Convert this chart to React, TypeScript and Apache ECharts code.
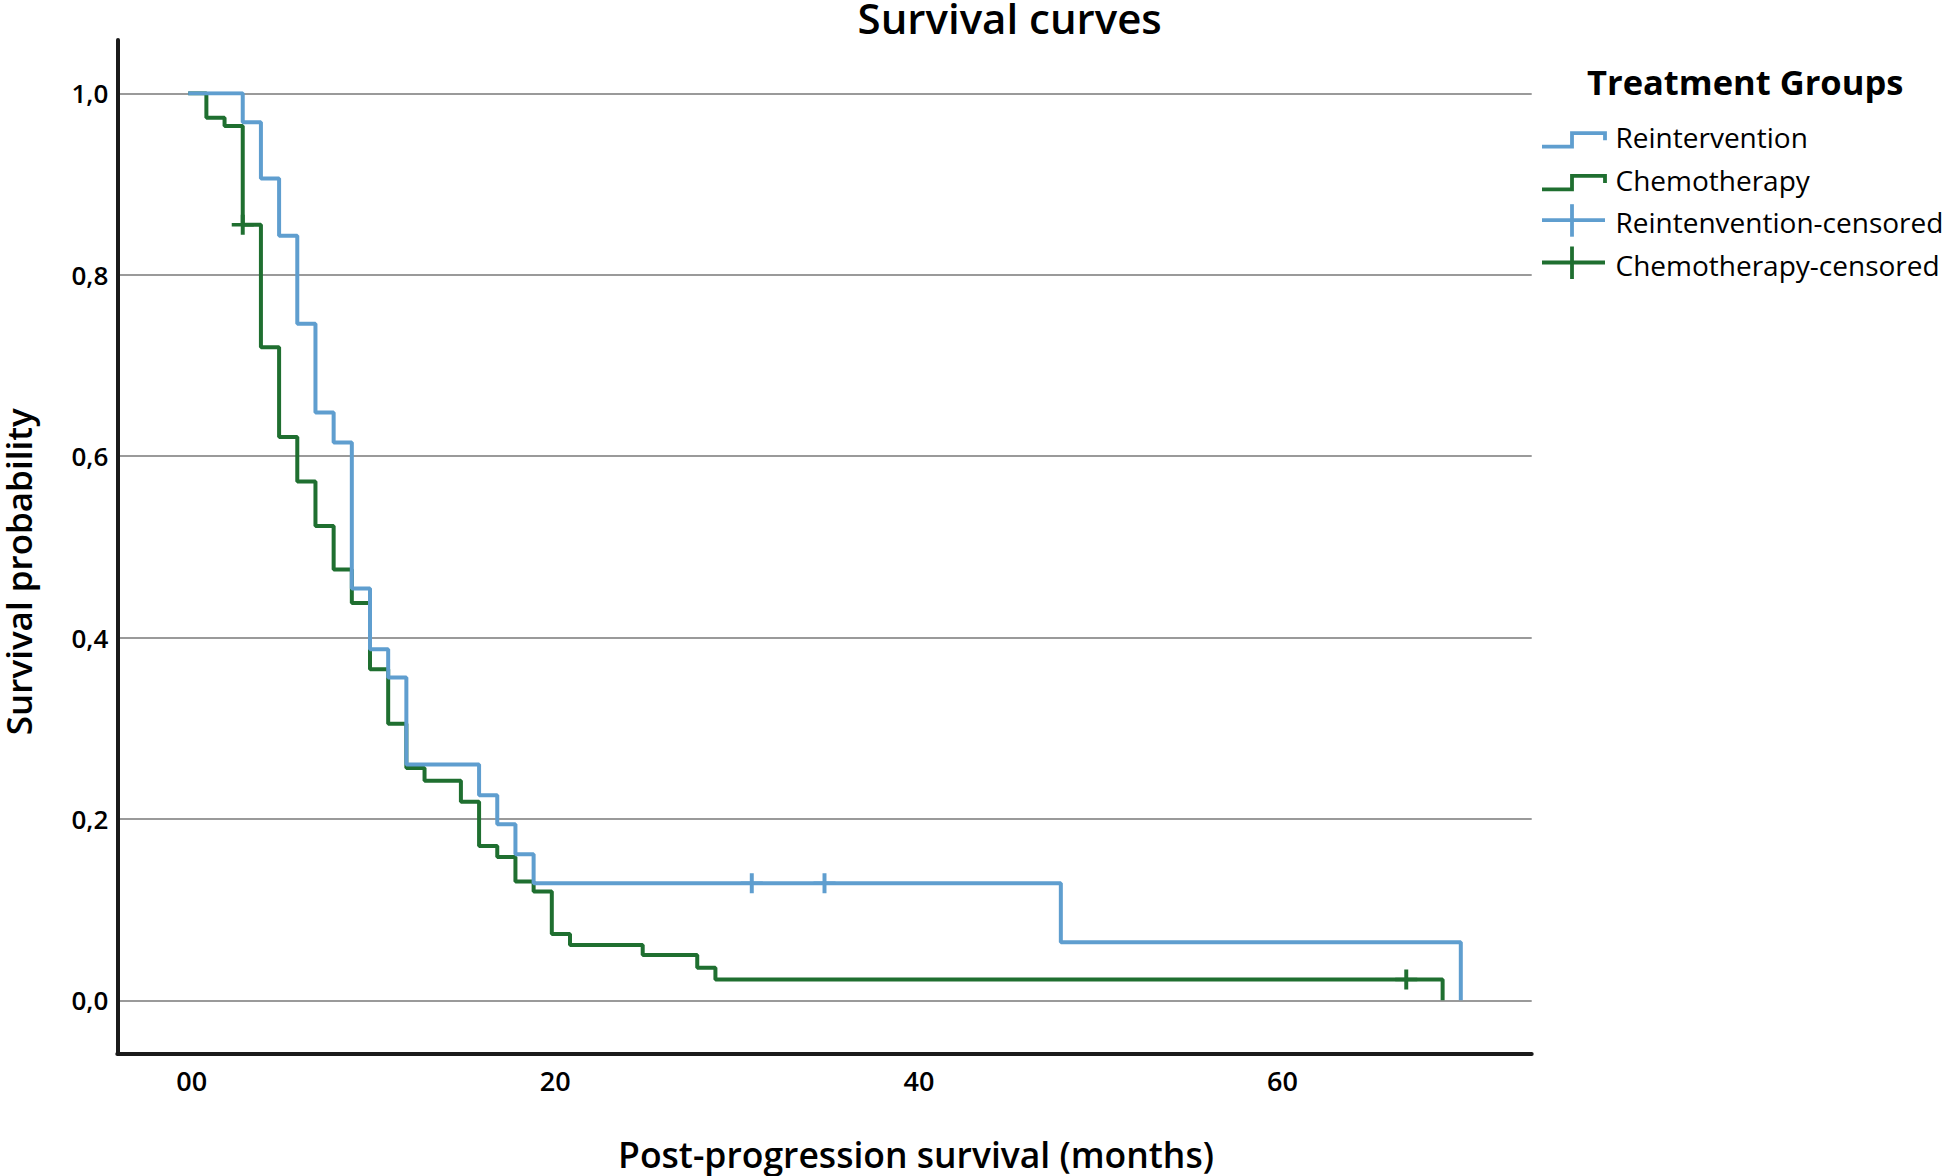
import React, { useEffect, useRef } from 'react';
import * as echarts from 'echarts';

// ---- Data ----
const reinterventionTimes = [0, 3, 4, 5, 6, 7, 8, 9, 10, 11, 12, 16, 17, 18, 19, 48, 70];
const reinterventionSurvival = [1, 0.968, 0.906, 0.843, 0.746, 0.648, 0.615, 0.454, 0.387, 0.356, 0.26, 0.226, 0.194, 0.161, 0.129, 0.064, 0];
const reinterventionCensoredTimes = [31, 35];
const reinterventionCensoredSurvival = [0.129, 0.129];

const chemoTimes = [0, 1, 2, 3, 4, 5, 6, 7, 8, 9, 10, 11, 12, 13, 15, 16, 17, 18, 19, 20, 21, 25, 28, 29, 69];
const chemoSurvival = [1, 0.973, 0.964, 0.855, 0.72, 0.621, 0.572, 0.523, 0.475, 0.438, 0.365, 0.305, 0.256, 0.242, 0.219, 0.17, 0.158, 0.131, 0.12, 0.073, 0.061, 0.05, 0.036, 0.023, 0];
const chemoCensoredTimes = [3, 67];
const chemoCensoredSurvival = [0.855, 0.023];

const xTickValues = [0, 20, 40, 60];
const xTickLabels = ['00', '20', '40', '60'];
const yTickValues = [0, 0.2, 0.4, 0.6, 0.8, 1.0];
const yTickLabels = ['0,0', '0,2', '0,4', '0,6', '0,8', '1,0'];

const legendNames = ['Reintervention', 'Chemotherapy', 'Reintenvention-censored', 'Chemotherapy-censored'];

const BLUE = '#5F9ECF';
const GREEN = '#1F6F30';
const FONT = '"Open Sans", "Noto Sans", sans-serif';
const PLUS = 'path://M8.2,0H11.8V20H8.2Z M0,8.2H20V11.8H0Z';

const zip = (a: number[], b: number[]) => a.map((v, i) => [v, b[i]]);
const lookup = (vals: number[], labels: string[]) => (v: number) => {
  const i = vals.findIndex((t) => Math.abs(t - v) < 1e-9);
  return i >= 0 ? labels[i] : '';
};

const X_MIN = -3.9;
const X_MAX = 73.9;

export default function App() {
  const ref = useRef<HTMLDivElement>(null);
  useEffect(() => {
    if (!ref.current) return;
    const chart = echarts.init(ref.current, undefined, { renderer: 'svg' });

    const legendX0 = 1542;
    const legendIconMid = 1572;
    const legendIconEnd = 1605;
    const legendTextX = 1615.5;
    const legendCapY = [139.2, 181.9, 224.7, 267];
    const legendColors = [BLUE, GREEN, BLUE, GREEN];

    const legendGraphics: any[] = [];
    legendNames.forEach((name, i) => {
      const cy = legendCapY[i];
      if (i < 2) {
        legendGraphics.push({
          type: 'polyline',
          shape: {
            points: [
              [legendX0, cy + 7.5],
              [legendIconMid, cy + 7.5],
              [legendIconMid, cy - 6],
              [legendIconEnd, cy - 6],
              [legendIconEnd, cy + 1],
            ],
          },
          style: { stroke: legendColors[i], lineWidth: 3.8, fill: null },
        });
      } else {
        const hy = cy - 4.5;
        legendGraphics.push({
          type: 'line',
          shape: { x1: legendX0, y1: hy, x2: legendIconEnd, y2: hy },
          style: { stroke: legendColors[i], lineWidth: 3.8 },
        });
        legendGraphics.push({
          type: 'line',
          shape: { x1: legendIconMid, y1: hy - 16, x2: legendIconMid, y2: hy + 16.5 },
          style: { stroke: legendColors[i], lineWidth: 3.8 },
        });
      }
      legendGraphics.push({
        type: 'text',
        x: legendTextX,
        y: cy - 2.4,
        style: {
          text: name,
          fill: '#000',
          fontSize: 28,
          fontFamily: FONT,
          fontWeight: 400,
          align: 'left',
          verticalAlign: 'middle',
        },
      });
    });

    const option: any = {
      animation: false,
      backgroundColor: '#ffffff',
      textStyle: { fontFamily: FONT },
      grid: [
        // data grid: y from 0 to 1
        { left: 117.3, right: 413.3, top: 93.3, bottom: 175.7, containLabel: false },
        // frame grid: the axis lines
        { left: 117.3, right: 413.3, top: 40, bottom: 122.7, containLabel: false },
      ],
      xAxis: [
        {
          gridIndex: 0,
          type: 'value',
          min: X_MIN,
          max: X_MAX,
          axisLine: { show: false },
          axisTick: { show: false },
          axisLabel: { show: false },
          splitLine: { show: false },
        },
        {
          gridIndex: 1,
          type: 'value',
          min: X_MIN,
          max: X_MAX,
          axisLine: { show: true, onZero: false, lineStyle: { color: '#1a1a1a', width: 4 } },
          axisTick: { show: false },
          splitLine: { show: false },
          axisLabel: {
            show: true,
            customValues: xTickValues,
            formatter: lookup(xTickValues, xTickLabels),
            color: '#000',
            fontSize: 27,
            fontWeight: 600,
            fontFamily: FONT,
            margin: 14,
            padding: [0, 0, 0, 7],
          },
        },
      ],
      yAxis: [
        {
          gridIndex: 0,
          type: 'value',
          min: 0,
          max: 1,
          interval: 0.2,
          axisLine: { show: false },
          axisTick: { show: false },
          splitLine: { show: true, lineStyle: { color: '#9a9a9a', width: 2 } },
          axisLabel: {
            show: true,
            formatter: lookup(yTickValues, yTickLabels),
            color: '#000',
            fontSize: 26,
            fontWeight: 600,
            fontFamily: FONT,
            margin: 9,
          },
        },
        {
          gridIndex: 1,
          type: 'value',
          min: 0,
          max: 1,
          axisLine: { show: true, onZero: false, lineStyle: { color: '#1a1a1a', width: 4 } },
          axisTick: { show: false },
          axisLabel: { show: false },
          splitLine: { show: false },
        },
      ],
      series: [
        {
          name: 'Chemotherapy',
          type: 'line',
          xAxisIndex: 0,
          yAxisIndex: 0,
          step: 'end',
          symbol: 'none',
          data: zip(chemoTimes, chemoSurvival),
          lineStyle: { color: GREEN, width: 4 },
          itemStyle: { color: GREEN },
          z: 2,
        },
        {
          name: 'Reintervention',
          type: 'line',
          xAxisIndex: 0,
          yAxisIndex: 0,
          step: 'end',
          symbol: 'none',
          data: zip(reinterventionTimes, reinterventionSurvival),
          lineStyle: { color: BLUE, width: 4 },
          itemStyle: { color: BLUE },
          z: 3,
        },
        {
          name: 'Chemotherapy-censored',
          type: 'scatter',
          xAxisIndex: 0,
          yAxisIndex: 0,
          symbol: PLUS,
          symbolSize: [22, 20],
          symbolKeepAspect: false,
          data: zip(chemoCensoredTimes, chemoCensoredSurvival),
          itemStyle: { color: GREEN, opacity: 1 },
          z: 4,
        },
        {
          name: 'Reintenvention-censored',
          type: 'scatter',
          xAxisIndex: 0,
          yAxisIndex: 0,
          symbol: PLUS,
          symbolSize: [22, 20],
          symbolKeepAspect: false,
          data: zip(reinterventionCensoredTimes, reinterventionCensoredSurvival),
          itemStyle: { color: BLUE, opacity: 1 },
          z: 4,
        },
      ],
      graphic: [
        {
          type: 'text',
          x: 1009.7,
          y: 17.5,
          style: {
            text: 'Survival curves',
            fill: '#000',
            fontSize: 42,
            fontWeight: 600,
            fontFamily: FONT,
            align: 'center',
            verticalAlign: 'middle',
          },
        },
        {
          type: 'text',
          x: 18.5,
          y: 571.7,
          rotation: Math.PI / 2,
          style: {
            text: 'Survival probability',
            fill: '#000',
            fontSize: 35,
            fontWeight: 600,
            fontFamily: FONT,
            align: 'center',
            verticalAlign: 'middle',
          },
        },
        {
          type: 'text',
          x: 916,
          y: 1154.3,
          style: {
            text: 'Post-progression survival (months)',
            fill: '#000',
            fontSize: 35.5,
            fontWeight: 600,
            fontFamily: FONT,
            align: 'center',
            verticalAlign: 'middle',
          },
        },
        {
          type: 'text',
          x: 1587,
          y: 81,
          style: {
            text: 'Treatment Groups',
            fill: '#000',
            fontSize: 34.5,
            fontWeight: 700,
            fontFamily: FONT,
            align: 'left',
            verticalAlign: 'middle',
          },
        },
        ...legendGraphics,
      ],
    };

    chart.setOption(option);
    return () => {
      chart.dispose();
    };
  }, []);

  return (
    <div
      ref={ref}
      style={{ position: 'fixed', left: 0, top: 0, width: 1945, height: 1176, background: '#fff' }}
    />
  );
}
